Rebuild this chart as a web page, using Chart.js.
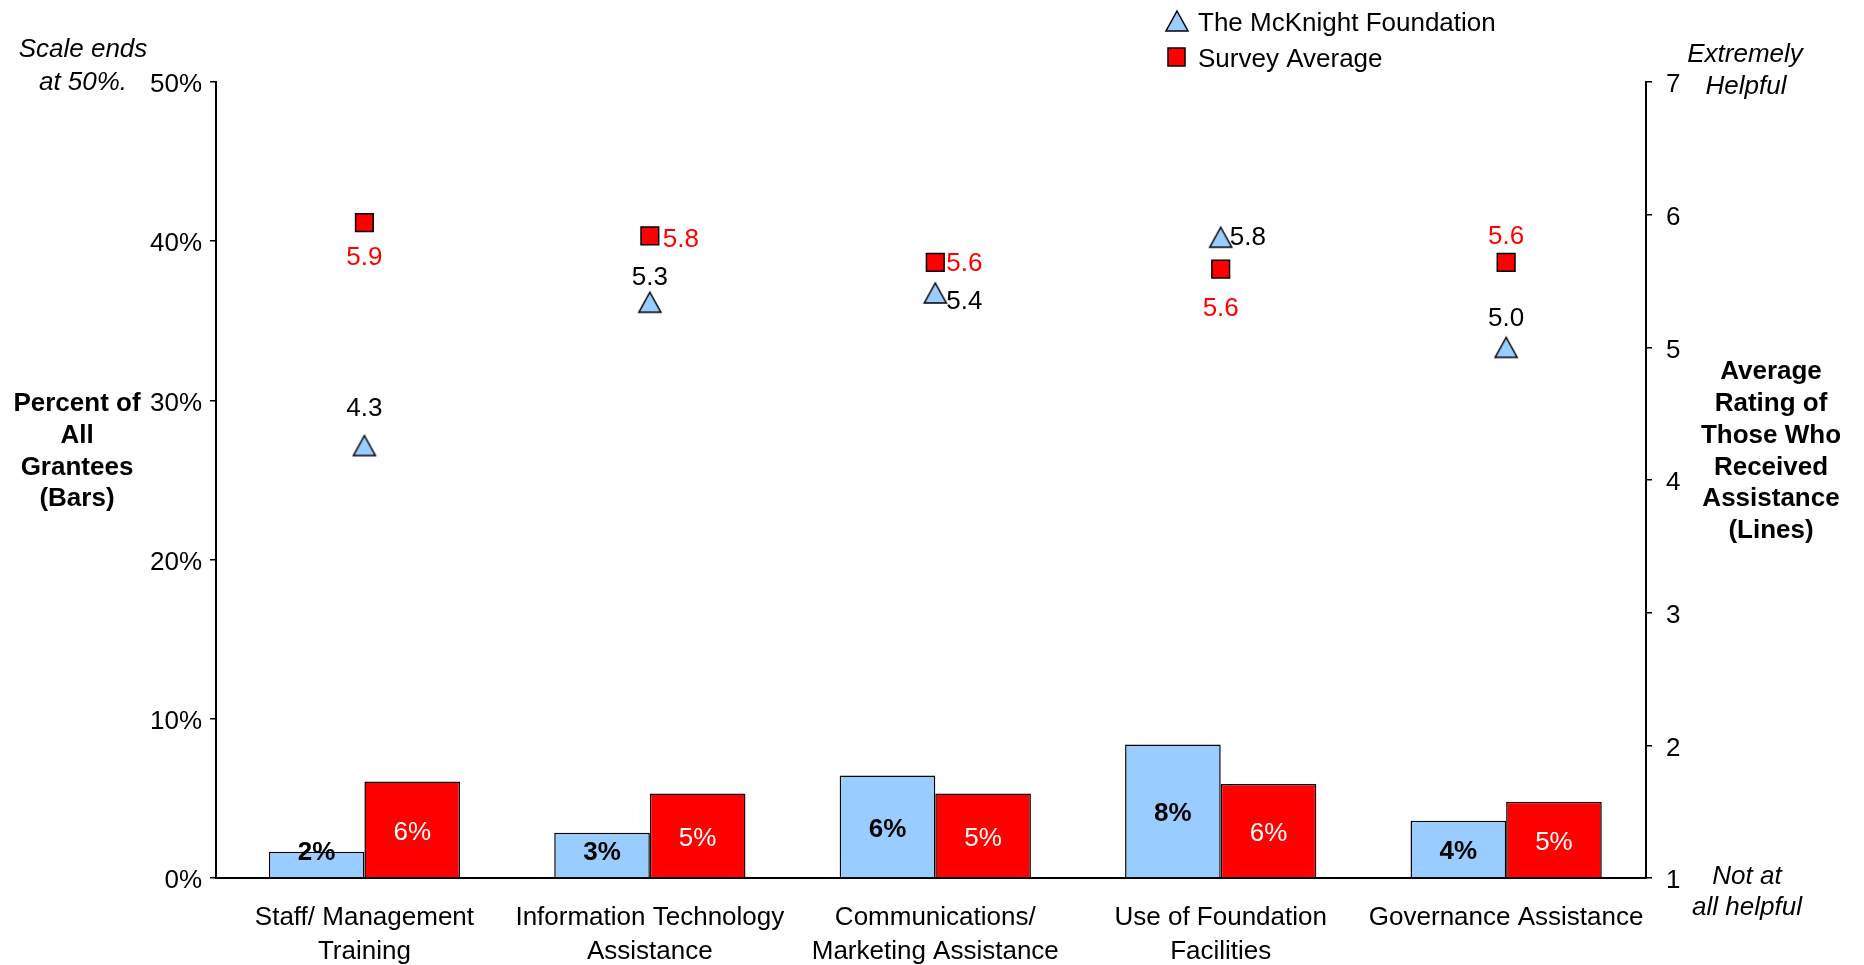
<!DOCTYPE html>
<html>
<head>
<meta charset="utf-8">
<script src="https://cdn.jsdelivr.net/npm/chart.js@4.4.0/dist/chart.umd.min.js"></script>
<style>
  body { margin: 0; background: #fff; }
  #wrap { width: 1864px; height: 965px; position: relative; }
</style>
</head>
<body>
<div id="wrap"><canvas id="chart"></canvas></div>
<script>
const categories = [
  ['Staff/ Management', 'Training'],
  ['Information Technology', 'Assistance'],
  ['Communications/', 'Marketing Assistance'],
  ['Use of Foundation', 'Facilities'],
  ['Governance Assistance']
];
const seriesNames = ['The McKnight Foundation', 'Survey Average'];
// percent of all grantees (bars)
const mcknightPct = [1.65, 2.84, 6.44, 8.38, 3.59];
const surveyPct = [6.06, 5.31, 5.31, 5.91, 4.79];
// average rating of those who received assistance (markers)
const mcknightRating = [4.26, 5.34, 5.41, 5.83, 5.0];
const surveyRating = [5.94, 5.84, 5.64, 5.59, 5.64];
const pctTicks = [0, 10, 20, 30, 40, 50];
const ratingTicks = [1, 2, 3, 4, 5, 6, 7];

const BLUE = '#99CCFF';
const RED = '#FF0000';
const FONT = "'Liberation Sans', Arial, sans-serif";
// 'middle' baseline sits a little high for digits/caps, nudge text down
const TY = 3;

// where each rating label sits next to its marker: [dx, dy, align]
const mcknightLabelPos = [[0, -40, 'center'], [0, -27, 'center'], [11, 6, 'left'], [9, -2, 'left'], [0, -32, 'center']];
const surveyLabelPos = [[0, 32, 'center'], [13, 1, 'left'], [11, -2, 'left'], [0, 37, 'center'], [0, -29, 'center']];

// triangle marker centred on its own box
function makeTriangle() {
  const c = document.createElement('canvas');
  c.width = 26;
  c.height = 24;
  const g = c.getContext('2d');
  g.beginPath();
  g.moveTo(13, 2);
  g.lineTo(24, 22);
  g.lineTo(2, 22);
  g.closePath();
  g.fillStyle = BLUE;
  g.fill();
  g.lineWidth = 1.5;
  g.strokeStyle = '#000';
  g.stroke();
  return c;
}
const triangle = makeTriangle();

// value labels on bars and markers
const valueLabels = {
  id: 'valueLabels',
  afterDatasetsDraw(chart) {
    const ctx = chart.ctx;
    const base = chart.chartArea.bottom;
    ctx.save();
    ctx.textBaseline = 'middle';
    chart.data.datasets.forEach((ds, i) => {
      const meta = chart.getDatasetMeta(i);
      meta.data.forEach((el, j) => {
        const v = ds.data[j];
        if (ds.type === 'line') {
          const pos = ds.labelPos[j];
          ctx.font = '26px ' + FONT;
          ctx.fillStyle = ds.labelColor;
          ctx.textAlign = pos[2];
          ctx.fillText(v.toFixed(1), el.x + pos[0], el.y + pos[1] + TY);
        } else {
          const mid = (el.y + el.base) / 2;
          ctx.textAlign = 'center';
          if (ds.label === seriesNames[0]) {
            ctx.font = 'bold 26px ' + FONT;
            ctx.fillStyle = '#000';
            ctx.fillText(Math.round(v) + '%', el.x, Math.min(mid, base - 28) + TY);
          } else {
            ctx.font = '26px ' + FONT;
            ctx.fillStyle = '#fff';
            ctx.fillText(Math.round(v) + '%', el.x, mid + TY);
          }
        }
      });
    });
    ctx.restore();
  }
};

// legend, axis titles and scale notes
const notes = {
  id: 'notes',
  afterDraw(chart) {
    const ctx = chart.ctx;
    ctx.save();
    ctx.textBaseline = 'middle';
    ctx.textAlign = 'center';
    ctx.fillStyle = '#000';

    ctx.font = 'bold 26px ' + FONT;
    ['Percent of', 'All', 'Grantees', '(Bars)'].forEach((t, k) => ctx.fillText(t, 77, 401 + TY + k * 31.7));
    ['Average', 'Rating of', 'Those Who', 'Received', 'Assistance', '(Lines)']
      .forEach((t, k) => ctx.fillText(t, 1771, 369 + TY + k * 31.8));

    ctx.font = 'italic 26px ' + FONT;
    ctx.fillText('Scale ends', 83, 47 + TY);
    ctx.fillText('at 50%.', 83, 80 + TY);
    ctx.fillText('Extremely', 1745, 52 + TY);
    ctx.fillText('Helpful', 1746, 84 + TY);
    ctx.fillText('Not at', 1747, 874 + TY);
    ctx.fillText('all helpful', 1747, 905 + TY);

    // legend
    ctx.drawImage(triangle, 1164, 9);
    ctx.lineWidth = 1.5;
    ctx.strokeStyle = '#000';
    ctx.fillStyle = RED;
    ctx.fillRect(1168, 48, 17, 18);
    ctx.strokeRect(1168, 48, 17, 18);

    ctx.fillStyle = '#000';
    ctx.textAlign = 'left';
    ctx.font = '26px ' + FONT;
    ctx.fillText(seriesNames[0], 1198, 21 + TY);
    ctx.fillText(seriesNames[1], 1198, 57 + TY);
    ctx.restore();
  }
};

// y tick labels: an empty first line pushes the text down by TY
const tickFont = { family: FONT, size: 26, lineHeight: (2 * TY) + 'px' };

const ctx = document.getElementById('chart').getContext('2d');

new Chart(ctx, {
  type: 'bar',
  data: {
    labels: categories,
    datasets: [
      {
        type: 'line',
        label: seriesNames[0],
        data: mcknightRating,
        yAxisID: 'y2',
        showLine: false,
        pointStyle: triangle,
        pointRadius: 12,
        labelColor: '#000',
        labelPos: mcknightLabelPos,
        order: 0
      },
      {
        type: 'line',
        label: seriesNames[1],
        data: surveyRating,
        yAxisID: 'y2',
        showLine: false,
        pointStyle: 'rect',
        pointRadius: 12.5,
        pointBackgroundColor: RED,
        pointBorderColor: '#000',
        pointBorderWidth: 1.5,
        labelColor: RED,
        labelPos: surveyLabelPos,
        order: 0
      },
      {
        label: seriesNames[0],
        data: mcknightPct,
        yAxisID: 'y',
        backgroundColor: BLUE,
        borderColor: '#000',
        borderWidth: 1.5,
        categoryPercentage: 0.67,
        barPercentage: 1.0,
        order: 1
      },
      {
        label: seriesNames[1],
        data: surveyPct,
        yAxisID: 'y',
        backgroundColor: RED,
        borderColor: '#000',
        borderWidth: 1.5,
        categoryPercentage: 0.67,
        barPercentage: 1.0,
        order: 1
      }
    ]
  },
  options: {
    responsive: true,
    maintainAspectRatio: false,
    animation: false,
    layout: { padding: { top: 82, left: 0, right: 0, bottom: 0 } },
    plugins: {
      legend: { display: false },
      tooltip: { enabled: false }
    },
    scales: {
      x: {
        grid: { display: false, drawTicks: false },
        border: { display: true, color: '#000', width: 2 },
        ticks: {
          color: '#000',
          padding: 23,
          maxRotation: 0,
          autoSkip: false,
          font: { family: FONT, size: 26, lineHeight: 1.31 }
        },
        // categories sit slightly right of the even split
        afterBuildTicks: s => { s._startValue = -0.52; s._valueRange = 5.01; },
        afterFit: s => { s.height = 87; }
      },
      y: {
        position: 'left',
        min: 0,
        max: 50,
        afterBuildTicks: s => { s.ticks = pctTicks.map(v => ({ value: v })); },
        grid: { drawOnChartArea: false, drawTicks: true, tickLength: 6, color: '#000', lineWidth: 1.5 },
        border: { display: true, color: '#000', width: 2 },
        ticks: {
          color: '#000',
          padding: 8,
          font: tickFont,
          callback: v => ['', v + '%']
        },
        afterFit: s => { s.width = 216; }
      },
      y2: {
        position: 'right',
        min: 1,
        max: 7,
        afterBuildTicks: s => { s.ticks = ratingTicks.map(v => ({ value: v })); },
        grid: { drawOnChartArea: false, drawTicks: true, tickLength: 6, color: '#000', lineWidth: 1.5 },
        border: { display: true, color: '#000', width: 2 },
        ticks: {
          color: '#000',
          padding: 14,
          font: tickFont,
          callback: v => ['', String(v)]
        },
        afterFit: s => { s.width = 218; }
      }
    }
  },
  plugins: [valueLabels, notes]
});
</script>
</body>
</html>
